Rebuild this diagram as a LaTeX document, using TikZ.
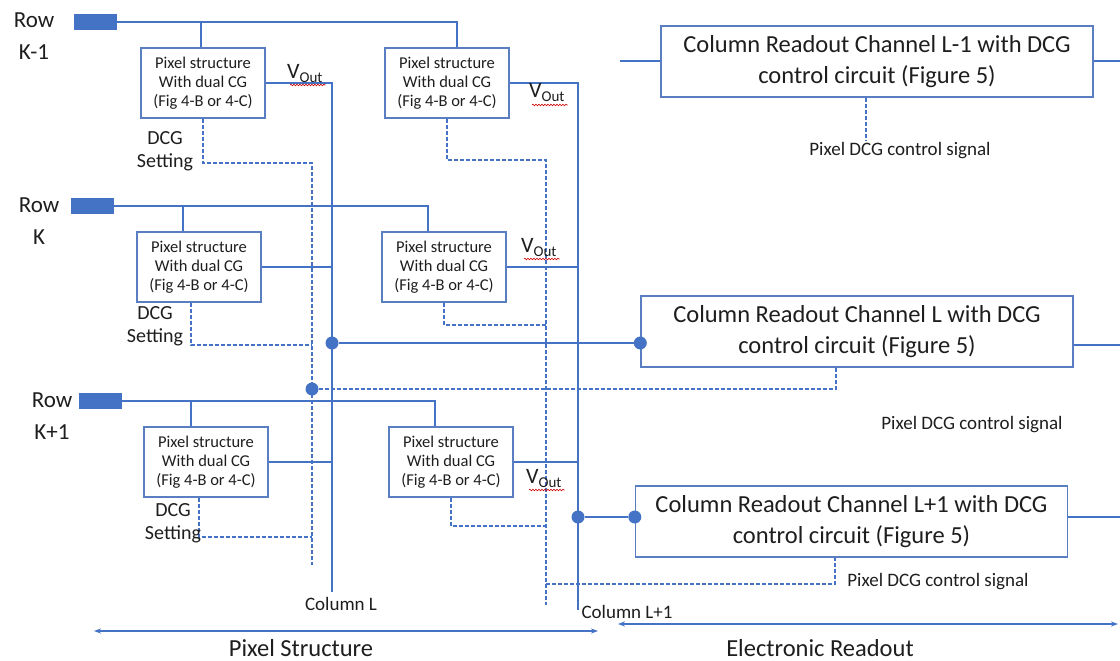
\documentclass[tikz,border=0pt]{standalone}
\usepackage{fontspec}
\setmainfont{Carlito}
\usetikzlibrary{arrows.meta,decorations.pathmorphing}
\definecolor{wirecol}{HTML}{4472C4}
\definecolor{boxcol}{HTML}{5A7EC2}
\definecolor{txtcol}{HTML}{1E1E1E}
\begin{document}
\begin{tikzpicture}[x=1pt,y=-1pt,
  pixbox/.style={draw=boxcol, line width=1.4pt, minimum width=124pt, minimum height=70pt, inner sep=0pt, align=center, font=\fontsize{16.5}{19}\selectfont, text=txtcol},
  rdbox/.style={draw=boxcol, line width=1.4pt, minimum width=432pt, minimum height=71pt, inner sep=0pt, align=center, font=\fontsize{24.5}{31}\selectfont, text=txtcol},
  wire/.style={draw=wirecol, line width=2pt},
  dwire/.style={draw=wirecol, line width=1.6pt, dash pattern=on 4pt off 2pt},
  jdot/.style={circle, fill=wirecol, inner sep=0pt, minimum size=13pt},
  rowpad/.style={fill=wirecol, minimum width=43pt, minimum height=16pt, inner sep=0pt},
  rowlbl/.style={align=center, font=\fontsize{23}{32}\selectfont, text=txtcol},
  dcglbl/.style={align=center, font=\fontsize{20}{23}\selectfont, text=txtcol},
  siglbl/.style={font=\fontsize{19}{20}\selectfont, text=txtcol},
  collbl/.style={font=\fontsize{19}{20}\selectfont, text=txtcol},
  seclbl/.style={font=\fontsize{24.5}{28}\selectfont, text=txtcol},
  vout/.style={font=\fontsize{22}{22}\selectfont, text=txtcol, inner sep=0pt, anchor=base west},
  squig/.style={draw=red!80!black, line width=0.6pt, decorate, decoration={snake, amplitude=0.8pt, segment length=3pt}},
  darrow/.style={draw=wirecol, line width=1.4pt, {Stealth[length=7pt,width=5pt]}-{Stealth[length=7pt,width=5pt]}}
]
\useasboundingbox (0,0) rectangle (1120,661);

% pixel boxes
\node[pixbox] (b1) at (203,83) {Pixel structure\\With dual CG\\(Fig 4-B or 4-C)};
\node[pixbox] (b2) at (447,83) {Pixel structure\\With dual CG\\(Fig 4-B or 4-C)};
\node[pixbox] (b3) at (199,267) {Pixel structure\\With dual CG\\(Fig 4-B or 4-C)};
\node[pixbox] (b4) at (444,267) {Pixel structure\\With dual CG\\(Fig 4-B or 4-C)};
\node[pixbox] (b5) at (206,462) {Pixel structure\\With dual CG\\(Fig 4-B or 4-C)};
\node[pixbox] (b6) at (451,462) {Pixel structure\\With dual CG\\(Fig 4-B or 4-C)};

% readout boxes
\node[rdbox] (rL1) at (877,61.5) {Column Readout Channel L-1 with DCG\\control circuit (Figure 5)};
\node[rdbox] (rL) at (857,331.5) {Column Readout Channel L with DCG\\control circuit (Figure 5)};
\node[rdbox] (rLp) at (851.5,521.5) {Column Readout Channel L+1 with DCG\\control circuit (Figure 5)};

% row pads and labels
\node[rowpad] (r1) at (95.5,22) {};
\node[rowpad] (r2) at (92.5,206) {};
\node[rowpad] (r3) at (100.5,401) {};
\node[rowlbl] (l1) at (34,36) {Row\\K-1};
\node[rowlbl] (l2) at (39,221) {Row\\K};
\node[rowlbl] (l3) at (52,416.5) {Row\\K+1};

% row lines
\draw[wire] (r1.east) -| ([xshift=10]b2.north);
\draw[wire] ([xshift=-2]b1.north) -- ([xshift=-2]b1.north |- r1.east);
\draw[wire] (r2.east) -| ([xshift=-16]b4.north);
\draw[wire] ([xshift=-16]b3.north) -- ([xshift=-16]b3.north |- r2.east);
\draw[wire] (r3.east) -| ([xshift=-16]b6.north);
\draw[wire] ([xshift=-15]b5.north) -- ([xshift=-15]b5.north |- r3.east);

% column lines
\coordinate (cLt) at (332,83);
\coordinate (cLb) at (332,592);
\draw[wire] (b1.east) -- (cLt) -- (cLb);
\draw[wire] (b3.east) -- (b3.east -| cLt);
\draw[wire] (b5.east) -- (b5.east -| cLt);
\coordinate (cMt) at (578,83);
\coordinate (cMb) at (578,610);
\draw[wire] (b2.east) -- (cMt) -- (cMb);
\draw[wire] (b4.east) -- (b4.east -| cMt);
\draw[wire] (b6.east) -- (b6.east -| cMt);

% junction dots and links to readout
\node[jdot] (dL) at (332,343) {};
\node[jdot] (dM) at (578,517) {};
\node[jdot] (pL) at ([yshift=-11.5pt]rL.west) {};
\node[jdot] (pLp) at ([yshift=4.5pt]rLp.west) {};
\node[jdot] (dD) at (312,389) {};
\draw[wire] (dL) -- (pL);
\draw[wire] (dM) -- (pLp);

% readout stubs
\coordinate (sL1) at (620,61.5);
\coordinate (eL1) at (1120,61.5);
\coordinate (eL) at (1120,345);
\coordinate (eLp) at (1120,517);
\draw[wire] (sL1) -- (rL1.west);
\draw[wire] (rL1.east) -- (eL1);
\draw[wire] ([yshift=-13.5pt]rL.east) -- (eL);
\draw[wire] ([yshift=4.5pt]rLp.east) -- (eLp);

% DCG dashed lines, column L
\coordinate (dLt) at (312,163);
\coordinate (dLb) at (312,565);
\coordinate (j3) at (312,345);
\coordinate (j5) at (312,537);
\draw[dwire] (b1.south) |- (dLt) -- (dLb);
\draw[dwire] ([xshift=-8]b3.south) |- (j3);
\draw[dwire] ([xshift=-7]b5.south) |- (j5);
\draw[dwire] (dD) -| ([xshift=-21]rL.south);

% DCG dashed lines, column L+1
\coordinate (dMt) at (546,160);
\coordinate (dMb) at (546,605);
\coordinate (j4) at (546,325);
\coordinate (j6) at (546,526);
\coordinate (k6) at (546,584);
\draw[dwire] (b2.south) |- (dMt) -- (dMb);
\draw[dwire] (b4.south) |- (j4);
\draw[dwire] (b6.south) |- (j6);
\draw[dwire] (k6) -| ([xshift=-16.5]rLp.south);

% DCG from L-1 box
\coordinate (sig1) at (866,140);
\draw[dwire] ([xshift=-11]rL1.south) -- (sig1);

% DCG setting labels
\node[dcglbl] (ds1) at (165,151.5) {DCG\\Setting};
\node[dcglbl] (ds2) at (155,326.5) {DCG\\Setting};
\node[dcglbl] (ds3) at (173,523.5) {DCG\\Setting};

% signal labels
\node[siglbl] (s1) at (900,151) {Pixel DCG control signal};
\node[siglbl] (s2) at (972,425) {Pixel DCG control signal};
\node[siglbl] (s3) at (938,582) {Pixel DCG control signal};

% Vout labels
\node[vout] (vo1) at (287,78) {V\raisebox{-4pt}{\fontsize{15}{15}\selectfont Out}};
\node[vout] (vo2) at (529,98) {V\raisebox{-4pt}{\fontsize{15}{15}\selectfont Out}};
\node[vout] (vo3) at (521,252) {V\raisebox{-4pt}{\fontsize{15}{15}\selectfont Out}};
\node[vout] (vo4) at (526,483) {V\raisebox{-4pt}{\fontsize{15}{15}\selectfont Out}};
\draw[squig] ([xshift=3pt,yshift=-7pt]vo1.base west) -- ([xshift=3pt,yshift=-7pt]vo1.base east);
\draw[squig] ([xshift=3pt,yshift=-7pt]vo2.base west) -- ([xshift=3pt,yshift=-7pt]vo2.base east);
\draw[squig] ([xshift=3pt,yshift=-7pt]vo3.base west) -- ([xshift=3pt,yshift=-7pt]vo3.base east);
\draw[squig] ([xshift=3pt,yshift=-7pt]vo4.base west) -- ([xshift=3pt,yshift=-7pt]vo4.base east);

% column labels
\node[collbl] (cl1) at (341,604) {Column L};
\node[collbl, anchor=west] (cl2) at (578,612) {Column L+1};

% section arrows
\coordinate (a1) at (94,631);
\coordinate (a2) at (598,631);
\coordinate (a3) at (618,624);
\coordinate (a4) at (1118,624);
\draw[darrow] (a1) -- (a2);
\draw[darrow] (a3) -- (a4);
\node[seclbl] (t1) at (301,648) {Pixel Structure};
\node[seclbl] (t2) at (820,648) {Electronic Readout};
\end{tikzpicture}
\end{document}
